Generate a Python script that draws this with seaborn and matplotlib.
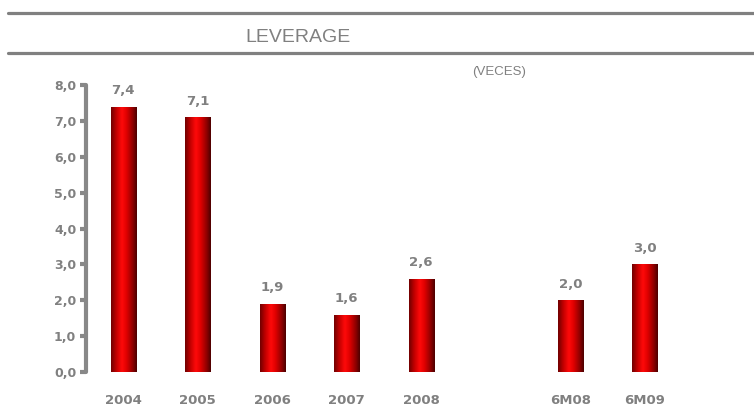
import numpy as np
import pandas as pd
import matplotlib
matplotlib.use("Agg")
import matplotlib.pyplot as plt
from matplotlib.colors import LinearSegmentedColormap
from matplotlib.lines import Line2D
import seaborn as sns

categories = ["2004", "2005", "2006", "2007", "2008", "6M08", "6M09"]
values = [7.4, 7.1, 1.9, 1.6, 2.6, 2.0, 3.0]
slot_order = ["2004", "2005", "2006", "2007", "2008", " ", "6M08", "6M09"]
yticks = [0, 1, 2, 3, 4, 5, 6, 7, 8]
title = "LEVERAGE"
unit = "(VECES)"

GRAY = "#808080"
sns.set_theme(style="white")
plt.rcParams['font.family'] = ['DejaVu Sans']

fig = plt.figure(figsize=(7.54, 4.18), dpi=100)
W, H = 754, 418
ax = fig.add_axes([86 / W, 1 - 372 / H, (682 - 86) / W, (372 - 85) / H])

df = pd.DataFrame({"cat": categories, "val": values})
sns.barplot(data=df, x="cat", y="val", order=slot_order, ax=ax,
            width=0.34, color="red", saturation=1)

ax.set_ylim(0, 8)
ax.set_xlim(-0.5, 7.5)

cmap = LinearSegmentedColormap.from_list(
    "bar", [(0, "#6e0000"), (0.2, "#c00000"), (0.42, "#ff0a0a"),
            (0.6, "#e00000"), (0.85, "#8a0000"), (1, "#4a0000")])
grad = np.linspace(0, 1, 256).reshape(1, -1)
for p in ax.patches:
    x0, y0 = p.get_x(), p.get_y()
    w, h = p.get_width(), p.get_height()
    if np.isnan(h) or h == 0:
        continue
    p.set_facecolor("none")
    p.set_edgecolor("none")
    im = ax.imshow(grad, cmap=cmap, extent=[x0, x0 + w, y0, y0 + h],
                   aspect="auto", zorder=2, interpolation="bicubic")
    im.set_clip_path(p)
    ax.text(x0 + w / 2, y0 + h + 0.27, f"{h:.1f}".replace(".", ","),
            ha="center", va="bottom", fontsize=9.5, fontweight="bold",
            color=GRAY)
ax.set_xlim(-0.5, 7.5)
ax.set_ylim(0, 8)

for s in ["top", "right", "bottom"]:
    ax.spines[s].set_visible(False)
ax.spines["left"].set_color("#888888")
ax.spines["left"].set_linewidth(3)
ax.spines["left"].set_capstyle("round")

ax.set_yticks(yticks)
ax.set_yticklabels([f"{t:.1f}".replace(".", ",") for t in yticks])
ax.tick_params(axis="y", left=True, length=4, width=3, color="#888888",
               labelcolor=GRAY, labelsize=9, pad=3)
for lab in ax.get_yticklabels():
    lab.set_fontweight("bold")
ax.tick_params(axis="x", bottom=False, labelcolor=GRAY, labelsize=9.5, pad=10)
for lab in ax.get_xticklabels():
    lab.set_fontweight("bold")
ax.set_xlabel("")
ax.set_ylabel("")
ax.grid(False)

# header lines and titles
fig.add_artist(Line2D([8 / W, 1], [1 - 13 / H] * 2, color=GRAY, lw=2.3,
                      transform=fig.transFigure))
fig.add_artist(Line2D([8 / W, 1], [1 - 53 / H] * 2, color=GRAY, lw=2.3,
                      transform=fig.transFigure))
fig.text(298 / W, 1 - 38 / H, title, ha="center", va="center",
         fontsize=14, color=GRAY, family="Liberation Sans")
fig.text(499 / W, 1 - 72 / H, unit, ha="center", va="center",
         fontsize=9.5, color=GRAY, family="Liberation Sans")

fig.savefig("out.png", dpi=100)
